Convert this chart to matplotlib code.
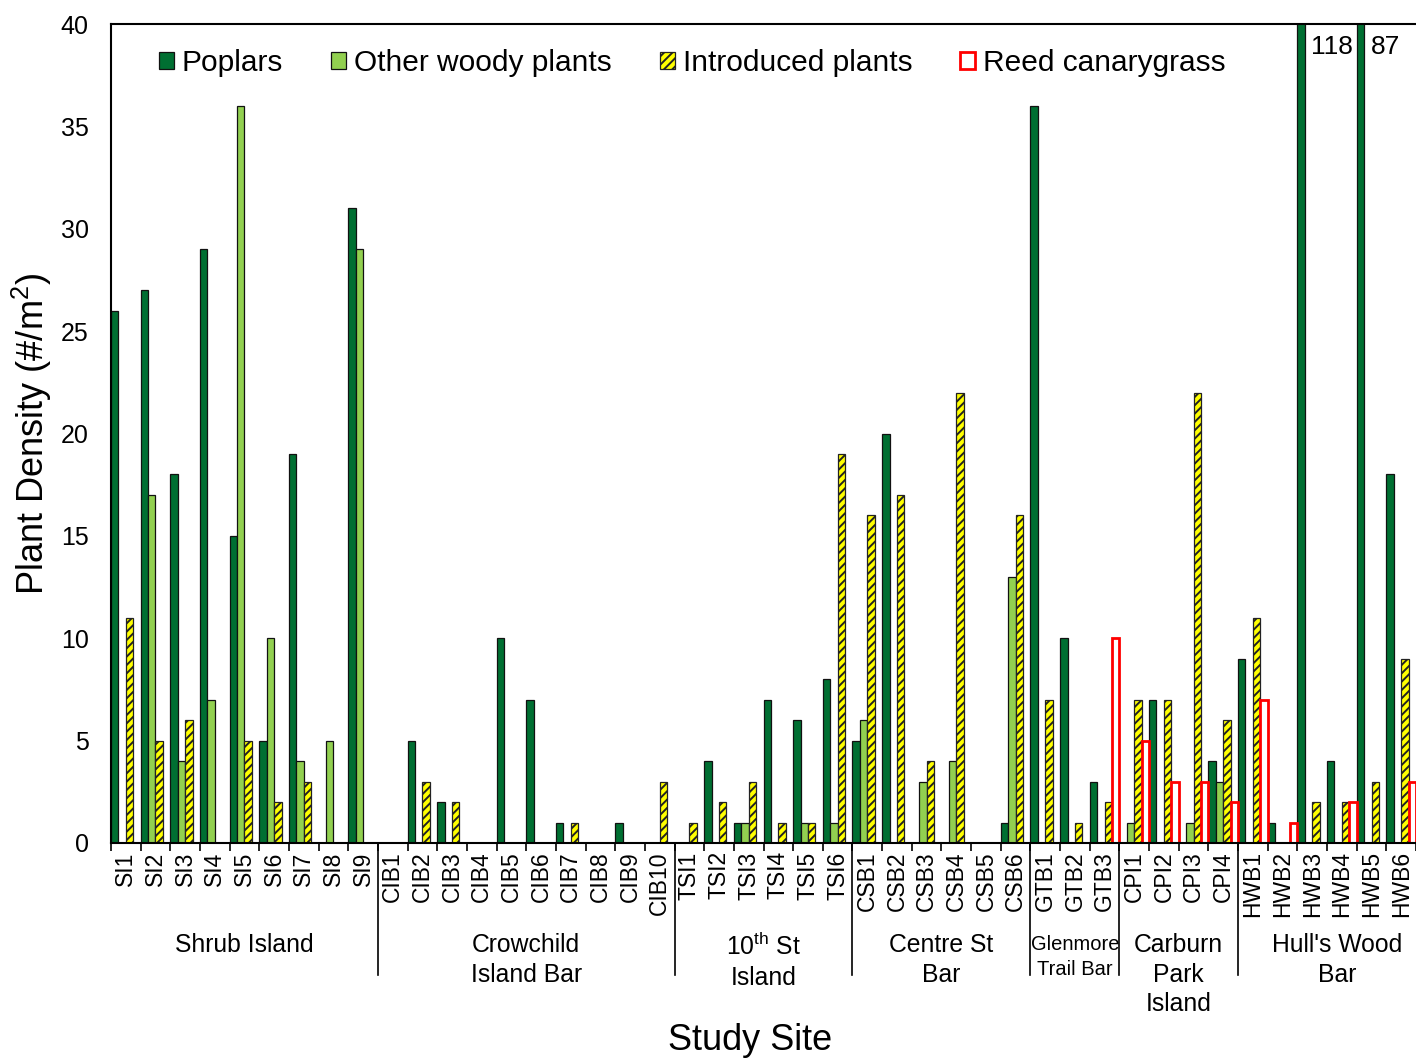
import numpy as np
import matplotlib.pyplot as plt
from matplotlib import rcParams
from matplotlib.transforms import blended_transform_factory

rcParams['font.family'] = ['Liberation Sans', 'DejaVu Sans']
rcParams['mathtext.fontset'] = 'custom'
rcParams['mathtext.rm'] = 'Liberation Sans'
rcParams['mathtext.it'] = 'Liberation Sans:italic'
rcParams['hatch.linewidth'] = 1.4

sites = (['SI%d' % i for i in range(1, 10)] + ['CIB%d' % i for i in range(1, 11)]
         + ['TSI%d' % i for i in range(1, 7)] + ['CSB%d' % i for i in range(1, 7)]
         + ['GTB%d' % i for i in range(1, 4)] + ['CPI%d' % i for i in range(1, 5)]
         + ['HWB%d' % i for i in range(1, 7)])

poplars = [26, 27, 18, 29, 15, 5, 19, 0, 31,
           0, 5, 2, 0, 10, 7, 1, 0, 1, 0,
           0, 4, 1, 7, 6, 8,
           5, 20, 0, 0, 0, 1,
           36, 10, 3,
           0, 7, 0, 4,
           9, 1, 118, 4, 87, 18]
other_woody = [0, 17, 4, 7, 36, 10, 4, 5, 29,
               0, 0, 0, 0, 0, 0, 0, 0, 0, 0,
               0, 0, 1, 0, 1, 1,
               6, 0, 3, 4, 0, 13,
               0, 0, 0,
               1, 0, 1, 3,
               0, 0, 0, 0, 0, 0]
introduced = [11, 5, 6, 0, 5, 2, 3, 0, 0,
              0, 3, 2, 0, 0, 0, 1, 0, 0, 3,
              1, 2, 3, 1, 1, 19,
              16, 17, 4, 22, 0, 16,
              7, 1, 2,
              7, 7, 22, 6,
              11, 0, 2, 2, 3, 9]
reed = [0, 0, 0, 0, 0, 0, 0, 0, 0,
        0, 0, 0, 0, 0, 0, 0, 0, 0, 0,
        0, 0, 0, 0, 0, 0,
        0, 0, 0, 0, 0, 0,
        0, 0, 10,
        5, 3, 3, 2,
        7, 1, 0, 2, 0, 3]

groups = ['Shrub Island', 'Crowchild\nIsland Bar', '10$^{\\mathrm{th}}$ St\nIsland',
          'Centre St\nBar', 'Glenmore\nTrail Bar', 'Carburn\nPark\nIsland',
          "Hull's Wood\nBar"]
group_sizes = [9, 10, 6, 6, 3, 4, 6]

W, H = 1416, 1059
fig = plt.figure(figsize=(W / 100, H / 100), dpi=100)
ax = fig.add_axes([111 / W, 1 - 843 / H, 1 - 111 / W, (843 - 24) / H])

x = np.arange(len(sites))
w = 0.25
b1 = ax.bar(x, poplars, w, align='edge', color='#006F32', edgecolor='#111111', lw=0.9,
            label='Poplars')
b2 = ax.bar(x + w, other_woody, w, align='edge', color='#92D050', edgecolor='#111111',
            lw=0.9, label='Other woody plants')
b3 = ax.bar(x + 2 * w, introduced, w, align='edge', color='#FFFF00', edgecolor='#222222',
            lw=0.9, hatch='////', label='Introduced plants')
b4 = ax.bar(x + 3 * w, reed, w, align='edge', color='white', edgecolor='#FF0000',
            lw=2, label='Reed canarygrass')

# values above the axis limit
for i, v in enumerate(poplars):
    if v > 40:
        ax.text(i + w + 0.22, 38.9, str(v), ha='left', va='center', fontsize=19)

ax.set_xlim(0, len(sites))
ax.set_ylim(0, 40)
ax.set_yticks(range(0, 41, 5))
ax.tick_params(axis='y', length=0, pad=16, labelsize=18)
ax.set_xticks(x + 0.5)
ax.set_xticklabels(sites, rotation=90, fontsize=16.5)
ax.set_xticks(np.arange(len(sites) + 1), minor=True)
ax.tick_params(axis='x', which='major', length=0, pad=6)
ax.tick_params(axis='x', which='minor', length=6, width=1.2, direction='out')

ax.spines['right'].set_visible(False)
for s in ['left', 'top', 'bottom']:
    ax.spines[s].set_linewidth(1.5)

# group labels and separators under the axis
trans = blended_transform_factory(ax.transData, fig.transFigure)
start = 0
for name, n in zip(groups, group_sizes):
    end = start + n
    if start > 0:
        ax.plot([start, start], [1 - 843 / H, 1 - 975 / H], color='black', lw=1.2,
                transform=trans, clip_on=False)
    xc = (start + end) / 2
    top = 933
    size, spacing = 17.8, 1.3
    if name.startswith('Glenmore'):
        size, spacing, top = 14.5, 1.4, 935
    elif name.startswith('Hull'):
        xc += 0.35
    ax.text(xc, 1 - top / H, name, transform=trans, ha='center', va='top',
            fontsize=size, linespacing=spacing)
    start = end

ax.set_ylabel('Plant Density (#/m$^2$)', fontsize=26, labelpad=5)
fig.text(750 / W, 1 - 1040 / H, 'Study Site', ha='center', va='center', fontsize=26)

ax.legend(handles=[b1, b2, b3, b4], ncol=4, fontsize=21.5, frameon=False, loc='upper left',
          bbox_to_anchor=(159 / W, 1 - 49 / H), bbox_transform=fig.transFigure,
          handlelength=0.5, handleheight=0.5, handletextpad=0.27, columnspacing=1.6,
          borderpad=0, borderaxespad=0)

fig.savefig('out.png', dpi=100)
